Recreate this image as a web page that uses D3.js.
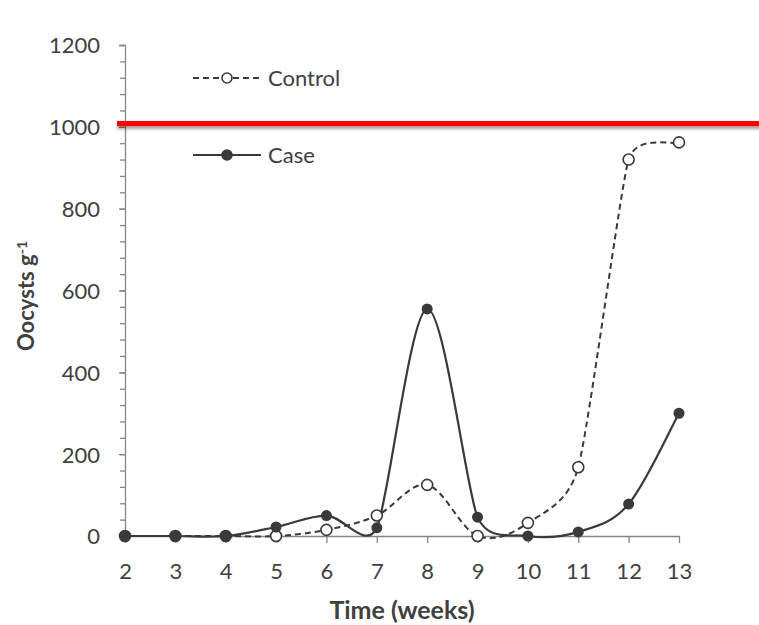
<!DOCTYPE html>
<html>
<head>
<meta charset="utf-8">
<script src="https://cdn.jsdelivr.net/npm/d3@7"></script>
<style>
  body { margin: 0; background: #fff; }
  text { font-family: Lato, "Open Sans", sans-serif; }
</style>
</head>
<body>
<div class="chart"></div>
<script>
// data
var weeks = [2, 3, 4, 5, 6, 7, 8, 9, 10, 11, 12, 13];
var controlValues = [0, 0, 0, 0, 15, 50, 125, 0, 32, 168, 920, 962];
var caseValues = [0, 0, 0, 22, 50, 20, 555, 46, 0, 10, 78, 300];
var yTicks = [0, 200, 400, 600, 800, 1000, 1200];
var threshold = 1008;

var svgWidth = 759;
var svgHeight = 625;

var margin = { top: 45, right: 80, bottom: 89, left: 125 };
var height = svgHeight - margin.top - margin.bottom;

var svg = d3.select(".chart")
  .append("svg")
  .attr("width", svgWidth)
  .attr("height", svgHeight);

var chartGroup = svg.append("g")
  .attr("transform", `translate(${margin.left}, ${margin.top})`);

var x = d3.scaleLinear().domain([2, 13]).range([0, 554]);
var y = d3.scaleLinear().domain([0, 1200]).range([height, 0]);

var axisColor = "#868686";
var textColor = "#404040";
var lineColor = "#3a3a3a";

// y axis with minor ticks
var yAxis = chartGroup.append("g")
  .call(d3.axisLeft(y).tickValues(yTicks).tickSize(6).tickPadding(19).tickFormat(d3.format("d")));
yAxis.append("g")
  .call(d3.axisLeft(y).tickValues(d3.range(0, 1201, 40)).tickSize(5).tickFormat(""))
  .select(".domain").remove();

// x axis
var xAxis = chartGroup.append("g")
  .attr("transform", `translate(0, ${height})`)
  .call(d3.axisBottom(x).tickValues(weeks).tickSize(7).tickPadding(20).tickSizeOuter(0));

chartGroup.selectAll(".domain, .tick line").attr("stroke", axisColor).attr("stroke-width", 1.3);
chartGroup.selectAll(".tick text")
  .attr("fill", textColor)
  .style("font-size", "22px");
yAxis.selectAll(".tick text").attr("dy", "0.36em");

// smoothed line the way the spreadsheet draws it:
// bezier handles of 1/6 of the neighbour chord, capped at half the shorter segment
function smoothPath(values) {
  var pts = values.map((d, i) => [x(weeks[i]), y(d)]);
  function handle(p0, p1, p2) {
    var dx = p2[0] - p0[0], dy = p2[1] - p0[1];
    var d02 = Math.hypot(dx, dy);
    if (d02 === 0) return [0, 0];
    var d01 = Math.hypot(p1[0] - p0[0], p1[1] - p0[1]);
    var d12 = Math.hypot(p2[0] - p1[0], p2[1] - p1[1]);
    var len = d02 / 6;
    var cap = Math.min(d01 || d12, d12 || d01) / 2;
    if (len > cap) len = cap;
    return [dx / d02 * len, dy / d02 * len];
  }
  var n = pts.length;
  var path = d3.path();
  path.moveTo(pts[0][0], pts[0][1]);
  for (var i = 0; i < n - 1; i++) {
    var p0 = pts[Math.max(i - 1, 0)], p1 = pts[i], p2 = pts[i + 1], p3 = pts[Math.min(i + 2, n - 1)];
    var h1 = handle(p0, p1, p2);
    var h2 = handle(p1, p2, p3);
    path.bezierCurveTo(p1[0] + h1[0], p1[1] + h1[1], p2[0] - h2[0], p2[1] - h2[1], p2[0], p2[1]);
  }
  return path.toString();
}

chartGroup.append("path")
  .attr("d", smoothPath(controlValues))
  .attr("fill", "none")
  .attr("stroke", lineColor)
  .attr("stroke-width", 2)
  .attr("stroke-dasharray", "6,4");

chartGroup.append("path")
  .attr("d", smoothPath(caseValues))
  .attr("fill", "none")
  .attr("stroke", lineColor)
  .attr("stroke-width", 2.2);

chartGroup.selectAll("circle.control")
  .data(controlValues)
  .enter()
  .append("circle")
  .attr("class", "control")
  .attr("cx", (d, i) => x(weeks[i]))
  .attr("cy", d => y(d))
  .attr("r", 5.5)
  .attr("fill", "#fff")
  .attr("stroke", lineColor)
  .attr("stroke-width", 1.6);

chartGroup.selectAll("circle.case")
  .data(caseValues)
  .enter()
  .append("circle")
  .attr("class", "case")
  .attr("cx", (d, i) => x(weeks[i]))
  .attr("cy", d => y(d))
  .attr("r", 5.5)
  .attr("fill", lineColor);

// red threshold line, running past the plot, with a soft shadow
var defs = svg.append("defs");
var filt = defs.append("filter").attr("id", "shadow")
  .attr("x", "-5%").attr("y", "-100%").attr("width", "110%").attr("height", "400%");
filt.append("feDropShadow").attr("dx", 0).attr("dy", 3).attr("stdDeviation", 1.5)
  .attr("flood-color", "#000").attr("flood-opacity", 0.35);

chartGroup.append("rect")
  .attr("x", -8)
  .attr("width", svgWidth)
  .attr("y", y(threshold) - 2.6)
  .attr("height", 5.2)
  .attr("fill", "#ff0000")
  .attr("filter", "url(#shadow)");

// legend
var legend = svg.append("g");
var legendItems = [
  { name: "Control", y: 78, dash: "6,4", fill: "#fff" },
  { name: "Case", y: 155, dash: null, fill: lineColor }
];
legendItems.forEach(function(item) {
  legend.append("line")
    .attr("x1", 193).attr("x2", 261)
    .attr("y1", item.y).attr("y2", item.y)
    .attr("stroke", lineColor)
    .attr("stroke-width", 2)
    .attr("stroke-dasharray", item.dash);
  legend.append("circle")
    .attr("cx", 227).attr("cy", item.y).attr("r", 5)
    .attr("fill", item.fill)
    .attr("stroke", lineColor)
    .attr("stroke-width", 1.6);
  legend.append("text")
    .attr("x", 268).attr("y", item.y)
    .attr("dy", "0.36em")
    .attr("fill", textColor)
    .style("font-size", "22px")
    .text(item.name);
});

// axis titles
svg.append("text")
  .attr("x", margin.left + 277)
  .attr("y", 619)
  .attr("text-anchor", "middle")
  .attr("fill", textColor)
  .style("font-size", "25px")
  .style("font-weight", "bold")
  .text("Time (weeks)");

var yTitle = svg.append("text")
  .attr("transform", "translate(34, 296) rotate(-90)")
  .attr("text-anchor", "middle")
  .attr("fill", textColor)
  .style("font-size", "22px")
  .style("font-weight", "bold");
yTitle.append("tspan").text("Oocysts g");
yTitle.append("tspan").attr("dy", "-0.5em").style("font-size", "14px").text("-1");
</script>
</body>
</html>
